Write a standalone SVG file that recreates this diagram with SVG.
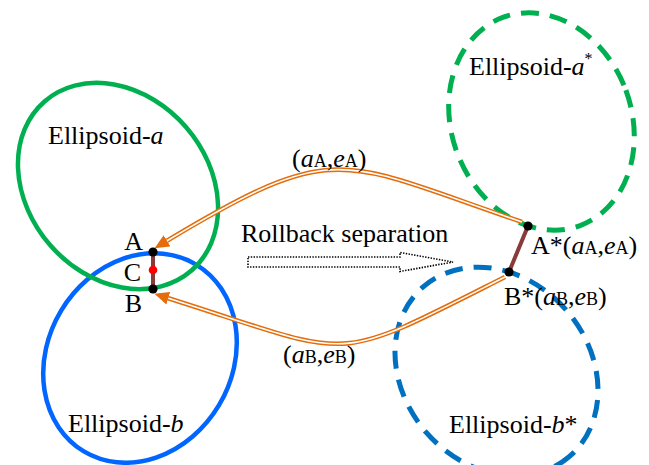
<svg xmlns="http://www.w3.org/2000/svg" width="649" height="465" viewBox="0 0 649 465">
  <style>
    text { font-family: "Liberation Serif", "Times New Roman", serif; font-size: 26px; fill: #000; }
    .it { font-style: italic; }
    .sub { font-size: 18px; }
    .sup { font-size: 16px; }
    .solid { fill: none; stroke-width: 4.5; }
    .dashed { fill: none; stroke-width: 5; stroke-dasharray: 18 11; }
    .green { stroke: #00B050; }
    .blue { stroke: #0066FF; }
    .blue-d { stroke: #0070C0; }
    .rail-out { fill: none; stroke: #E46C0A; stroke-width: 4.6; }
    .rail-in { fill: none; stroke: #FFFFFF; stroke-width: 1.6; }
    .link { stroke: #8B3A3A; stroke-width: 4; }
    .pt { fill: #000; }
  </style>
  <defs>
    <marker id="head" markerUnits="userSpaceOnUse" viewBox="0 0 15 14" markerWidth="15" markerHeight="14" refX="0" refY="7" orient="auto">
      <path d="M0,0.5 L14.5,7 L0,13.5 z" fill="#E46C0A"/>
    </marker>
  </defs>

  <rect width="649" height="465" fill="#FFFFFF"/>

  <!-- original ellipsoids -->
  <g id="ellipsoid-b">
    <ellipse class="solid blue" cx="140" cy="358" rx="92" ry="109" transform="rotate(31 140 358)"/>
    <text x="68" y="432">Ellipsoid-<tspan class="it">b</tspan></text>
  </g>
  <g id="ellipsoid-a">
    <ellipse class="solid green" cx="118" cy="186" rx="112" ry="90" transform="rotate(49 118 186)"/>
    <text x="48" y="144">Ellipsoid-<tspan class="it">a</tspan></text>
  </g>

  <!-- separated ellipsoids -->
  <g id="ellipsoid-a-star">
    <ellipse class="dashed green" cx="541.5" cy="121.5" rx="90" ry="111" transform="rotate(-20.4 541.5 121.5)"/>
    <text x="469" y="75">Ellipsoid-<tspan class="it">a</tspan><tspan class="sup" dy="-11">*</tspan></text>
  </g>
  <g id="ellipsoid-b-star">
    <ellipse class="dashed blue-d" cx="496.5" cy="371.5" rx="112" ry="93" transform="rotate(49.3 496.5 371.5)"/>
    <text x="449" y="433">Ellipsoid-<tspan class="it">b</tspan>*</text>
  </g>

  <!-- rollback direction -->
  <g id="rollback">
    <path d="M248,257 L400,257 L400,252.5 L453,262 L400,271.5 L400,267 L248,267 z" fill="none" stroke="#000" stroke-width="1.6" stroke-dasharray="1.4 1.4"/>
    <text x="241" y="242">Rollback separation</text>
  </g>

  <!-- connectors -->
  <g id="connectors">
    <path class="rail-out" d="M522,222 C340,160 338,138 167,240.8"/>
    <path class="rail-in" d="M522,222 C340,160 338,138 167,240.8" marker-end="url(#head)"/>
    <path class="rail-out" d="M505,277 C327,367 358,358 168.3,298.2"/>
    <path class="rail-in" d="M505,277 C327,367 358,358 168.3,298.2" marker-end="url(#head)"/>
    <text x="292" y="167">(<tspan class="it">a</tspan><tspan class="sub">A</tspan>,<tspan class="it">e</tspan><tspan class="sub">A</tspan>)</text>
    <text x="283" y="363">(<tspan class="it">a</tspan><tspan class="sub">B</tspan>,<tspan class="it">e</tspan><tspan class="sub">B</tspan>)</text>
  </g>

  <!-- contact points -->
  <g id="points-ab">
    <line class="link" x1="153" y1="252" x2="153" y2="289"/>
    <circle class="pt" cx="153" cy="252" r="4.6"/>
    <circle class="pt" cx="153" cy="289" r="4.6"/>
    <circle cx="153" cy="270" r="4.3" fill="#FF0000"/>
    <text x="143" y="250" text-anchor="end">A</text>
    <text x="141" y="281" text-anchor="end">C</text>
    <text x="142" y="312" text-anchor="end">B</text>
  </g>
  <g id="points-ab-star">
    <line class="link" x1="528" y1="226" x2="509" y2="272"/>
    <circle class="pt" cx="528" cy="226" r="4.6"/>
    <circle class="pt" cx="509" cy="272" r="4.6"/>
    <text x="531" y="254">A*(<tspan class="it">a</tspan><tspan class="sub">A</tspan>,<tspan class="it">e</tspan><tspan class="sub">A</tspan>)</text>
    <text x="504" y="305">B*(<tspan class="it">a</tspan><tspan class="sub">B</tspan>,<tspan class="it">e</tspan><tspan class="sub">B</tspan>)</text>
  </g>
</svg>
